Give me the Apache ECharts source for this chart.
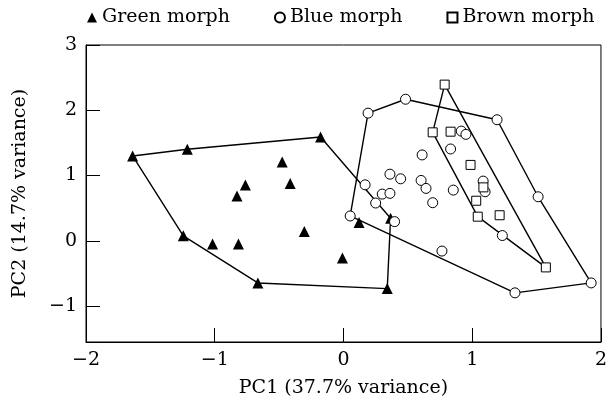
<!DOCTYPE html>
<html>
<head>
<meta charset="utf-8">
<script src="https://cdn.jsdelivr.net/npm/echarts@6/dist/echarts.min.js"></script>
<style>
html,body{margin:0;padding:0;background:#fff;}
#chart{width:610px;height:403px;}
</style>
</head>
<body>
<div id="chart"></div>
<script>
// PC1, PC2 scores
const greenMorph = [
  [-1.638, 1.300], [-1.213, 1.402], [-0.178, 1.590], [0.366, 0.346],
  [0.340, -0.732], [-0.665, -0.645], [-1.244, 0.076], [-0.476, 1.209],
  [-0.414, 0.880], [-0.762, 0.854], [-0.827, 0.686], [-1.017, -0.050],
  [-0.816, -0.050], [-0.304, 0.142], [-0.008, -0.264], [0.121, 0.282]
];
const blueMorph = [
  [0.191, 1.956], [0.482, 2.169], [1.193, 1.855], [1.512, 0.675],
  [1.924, -0.645], [1.332, -0.797], [0.052, 0.381], [0.915, 1.681],
  [0.951, 1.631], [0.832, 1.407], [0.611, 1.316], [0.361, 1.021],
  [0.444, 0.950], [0.603, 0.925], [0.641, 0.803], [0.853, 0.777],
  [0.693, 0.584], [0.168, 0.858], [0.301, 0.716], [0.361, 0.727],
  [0.250, 0.579], [0.397, 0.294], [1.085, 0.915], [1.100, 0.752],
  [1.234, 0.081], [0.765, -0.157]
];
const brownMorph = [
  [0.786, 2.393], [0.693, 1.662], [1.043, 0.370], [1.572, -0.407],
  [0.832, 1.672], [0.987, 1.163], [1.087, 0.819], [1.031, 0.614],
  [1.213, 0.392]
];
// convex hull vertices (indices into the arrays above)
const greenHull = [0, 1, 2, 3, 4, 5, 6, 0];
const blueHull = [0, 1, 2, 3, 4, 5, 6, 0];
const brownHull = [0, 1, 2, 3, 0];
const xTicks = [-2, -1, 0, 1, 2];
const yTicks = [-1, 0, 1, 2, 3];
const seriesNames = ['Green morph', 'Blue morph', 'Brown morph'];

const FONT = 'DejaVu Serif';
const FS = 19;
const fmt = v => String(v).replace('-', '\u2212');
const hullLine = (pts, idx, name) => ({
  name: name, type: 'line', data: idx.map(i => pts[i]),
  showSymbol: false, symbol: 'none', silent: true, z: 1,
  lineStyle: { color: '#000', width: 1.4 }, animation: false
});

const chart = echarts.init(document.getElementById('chart'), null, { renderer: 'canvas' });
chart.setOption({
  animation: false,
  backgroundColor: '#fff',
  textStyle: { fontFamily: FONT, color: '#000' },
  legend: {
    data: [
      { name: seriesNames[0], icon: 'triangle' },
      { name: seriesNames[1], icon: 'circle' },
      { name: seriesNames[2], icon: 'rect' }
    ],
    left: 82, top: 3, itemWidth: 10, itemHeight: 10, itemGap: 44,
    textStyle: { fontFamily: FONT, fontSize: FS, color: '#000' }
  },
  grid: { left: 86, right: 7, top: 45, bottom: 61, show: true, borderColor: '#000', borderWidth: 1 },
  xAxis: {
    type: 'value', min: -2, max: 2, interval: 1,
    name: 'PC1 (37.7% variance)', nameLocation: 'middle', nameGap: 37,
    nameTextStyle: { fontFamily: FONT, fontSize: FS, color: '#000' },
    splitLine: { show: false },
    axisLine: { show: true, onZero: false, lineStyle: { color: '#000', width: 1 } },
    axisTick: { show: true, inside: true, length: 14, lineStyle: { color: '#000', width: 1 } },
    axisLabel: { fontFamily: FONT, fontSize: FS, color: '#000', margin: 9, customValues: xTicks, formatter: fmt }
  },
  yAxis: {
    type: 'value', min: -1.55, max: 3,
    name: 'PC2 (14.7% variance)', nameLocation: 'middle', nameGap: 56, nameRotate: 90,
    nameTextStyle: { fontFamily: FONT, fontSize: FS, color: '#000' },
    splitLine: { show: false },
    axisLine: { show: true, onZero: false, lineStyle: { color: '#000', width: 1 } },
    axisTick: { show: true, inside: true, length: 14, customValues: yTicks, lineStyle: { color: '#000', width: 1 } },
    axisLabel: { fontFamily: FONT, fontSize: FS, color: '#000', margin: 9, customValues: yTicks, formatter: fmt }
  },
  series: [
    hullLine(greenMorph, greenHull, 'gh'),
    hullLine(blueMorph, blueHull, 'bh'),
    hullLine(brownMorph, brownHull, 'brh'),
    {
      name: seriesNames[0], type: 'scatter', data: greenMorph, z: 3,
      symbol: 'triangle', symbolSize: 11,
      itemStyle: { color: '#000', borderColor: '#000', borderWidth: 0, opacity: 1 }
    },
    {
      name: seriesNames[1], type: 'scatter', data: blueMorph, z: 3,
      symbol: 'circle', symbolSize: 10,
      itemStyle: { color: '#fff', borderColor: '#000', borderWidth: 1, opacity: 1 }
    },
    {
      name: seriesNames[2], type: 'scatter', data: brownMorph, z: 3,
      symbol: 'rect', symbolSize: 9,
      itemStyle: { color: '#fff', borderColor: '#000', borderWidth: 1, opacity: 1 }
    }
  ]
});
</script>
</body>
</html>
